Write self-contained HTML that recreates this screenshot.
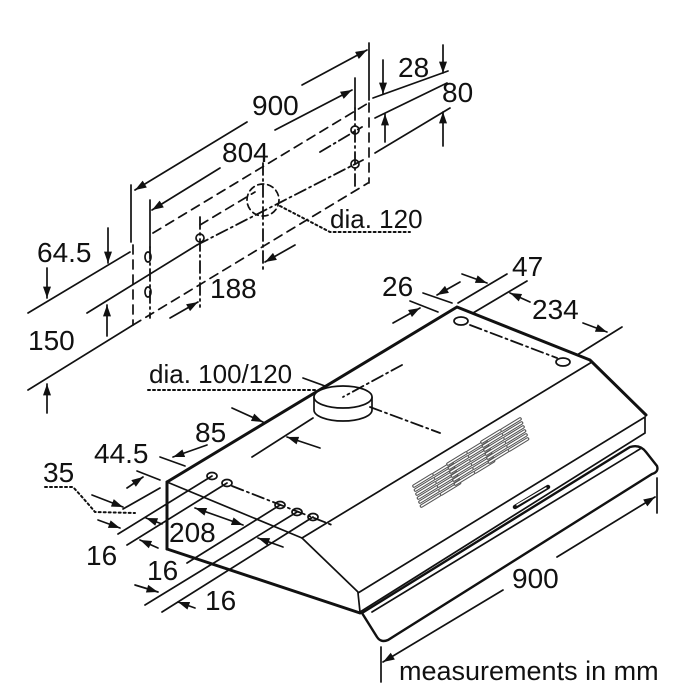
<!DOCTYPE html>
<html><head><meta charset="utf-8"><style>
html,body{margin:0;padding:0;background:#fff}
svg{display:block}
text{font-family:"Liberation Sans",Arial,sans-serif;fill:#111}
</style></head><body>
<svg width="700" height="700" viewBox="0 0 700 700" xmlns="http://www.w3.org/2000/svg">
<defs>
<marker id="a" viewBox="0 0 10 7" refX="10" refY="3.5" markerWidth="13" markerHeight="8" markerUnits="userSpaceOnUse" orient="auto-start-reverse"><path d="M0,0 L10,3.5 L0,7 z" fill="#111"/></marker>
<path id="sl" d="M0,0 l18,-11 M1.5,4 l18,-11 M3,8 l18,-11 M4.5,12 l18,-11 M6,16 l18,-11 M7.5,20 l18,-11 M20,-12 l18,-11 M21.5,-8 l18,-11 M23,-4 l18,-11 M24.5,0 l18,-11 M26,4 l18,-11 M27.5,8 l18,-11"/>
<g id="vg" stroke-linecap="round" fill="none">
<use href="#sl" stroke="#555" stroke-width="3.6"/>
<use href="#sl" stroke="#fff" stroke-width="1.4"/>
</g>
</defs>
<g stroke="#111" stroke-width="1.7" fill="none" stroke-linecap="round">
<line x1="247" y1="122" x2="135" y2="190" marker-end="url(#a)"/>
<line x1="302" y1="85" x2="367" y2="50" marker-end="url(#a)"/>
<line x1="220" y1="168" x2="152" y2="210" marker-end="url(#a)"/>
<line x1="275" y1="130" x2="352" y2="90" marker-end="url(#a)"/>
<line x1="131" y1="185" x2="131" y2="242"/>
<line x1="150" y1="200" x2="150" y2="247"/>
<line x1="369" y1="43" x2="369" y2="100"/>
<line x1="355" y1="78" x2="355" y2="108"/>
<g stroke-dasharray="9,6">
<line x1="153" y1="233" x2="370" y2="102"/>
<line x1="200" y1="225" x2="255" y2="192"/>
<line x1="133" y1="325" x2="368" y2="183"/>
<line x1="133" y1="245" x2="133" y2="325"/>
<line x1="369" y1="103" x2="369" y2="183"/>
</g>
<g stroke-dasharray="12,4,2,4" stroke-width="1.8">
<line x1="197" y1="245" x2="363" y2="160"/>
<line x1="320" y1="152" x2="362" y2="127"/>
<line x1="150" y1="247" x2="150" y2="318"/>
<line x1="200" y1="217" x2="200" y2="307"/>
<line x1="263" y1="163" x2="263" y2="273"/>
<line x1="355" y1="108" x2="355" y2="187"/>
</g>
<circle cx="263" cy="200" r="16" stroke-dasharray="6,4"/>
<ellipse cx="148" cy="257" rx="3" ry="5"/>
<ellipse cx="148" cy="292" rx="3" ry="5"/>
<circle cx="200" cy="238" r="4"/>
<circle cx="355" cy="130" r="4"/>
<circle cx="355" cy="164" r="4"/>
<line x1="28" y1="313" x2="130" y2="252"/>
<line x1="87" y1="313" x2="197" y2="245"/>
<line x1="28" y1="390" x2="133" y2="325"/>
<line x1="108" y1="228" x2="108" y2="263" marker-end="url(#a)"/>
<line x1="47" y1="268" x2="47" y2="298" marker-end="url(#a)"/>
<line x1="107" y1="336" x2="107" y2="305" marker-end="url(#a)"/>
<line x1="47" y1="413" x2="47" y2="384" marker-end="url(#a)"/>
<line x1="373" y1="98" x2="448" y2="71"/>
<line x1="375" y1="118" x2="447" y2="83"/>
<line x1="375" y1="153" x2="450" y2="108"/>
<line x1="383" y1="60" x2="383" y2="94" marker-end="url(#a)"/>
<line x1="443" y1="45" x2="443" y2="73" marker-end="url(#a)"/>
<line x1="385" y1="142" x2="385" y2="114" marker-end="url(#a)"/>
<line x1="443" y1="146" x2="443" y2="112" marker-end="url(#a)"/>
<line x1="170" y1="318" x2="198" y2="302" marker-end="url(#a)"/>
<line x1="295" y1="245" x2="265" y2="262" marker-end="url(#a)"/>
<path d="M280,206 L330,232 L410,232" stroke-dasharray="2,3" stroke-width="2"/>

<path d="M362,613 L630,447 Q640,444 646,452 L657,466 Q659,472 652,474 L388,640 Q381,643 377,637 Z" fill="#fff" stroke-width="2.4"/>
<line x1="372" y1="612" x2="640" y2="449"/>
<path d="M358,593 L645,417 L645,433 L360,612 Z" fill="#fff"/>
<line x1="167" y1="482" x2="302" y2="538"/>
<line x1="302" y1="538" x2="358" y2="592"/>
<line x1="302" y1="538" x2="592" y2="362"/>
<g stroke-width="3">
<polyline points="167,482 457,307 590,360 646,415"/>
<line x1="167" y1="482" x2="167" y2="549"/>
<line x1="167" y1="549" x2="360" y2="613"/>
</g>
<ellipse cx="461" cy="321" rx="7" ry="4"/>
<ellipse cx="563" cy="362" rx="7" ry="4"/>
<line x1="470" y1="325" x2="557" y2="358" stroke-dasharray="12,4,2,4" stroke-width="1.8"/>
<path d="M314,397 L314,410 A29,11 0 0 0 372,410 L372,397" fill="#fff"/>
<ellipse cx="343" cy="397" rx="29" ry="11" fill="#fff"/>
<g stroke-dasharray="12,4,2,4" stroke-width="1.8">
<line x1="402" y1="365" x2="343" y2="397"/>
<line x1="370" y1="407" x2="440" y2="433"/>
</g>
<ellipse cx="212" cy="476" rx="5" ry="3.5"/>
<ellipse cx="227" cy="483" rx="5" ry="3.5"/>
<ellipse cx="280" cy="505" rx="5" ry="3.5"/>
<ellipse cx="297" cy="512" rx="5" ry="3.5"/>
<ellipse cx="313" cy="517" rx="5" ry="3.5"/>
<line x1="232" y1="486" x2="332" y2="525" stroke-dasharray="12,4,2,4" stroke-width="1.8"/>
<line x1="212" y1="476" x2="118" y2="534"/>
<line x1="227" y1="483" x2="127" y2="545"/>
<line x1="280" y1="505" x2="187" y2="563"/>
<line x1="297" y1="512" x2="145" y2="605"/>
<line x1="313" y1="517" x2="162" y2="612"/>
<line x1="123" y1="509" x2="160" y2="488"/>
<line x1="137" y1="471" x2="160" y2="480"/>
<line x1="160" y1="457" x2="185" y2="466"/>
<line x1="252" y1="457" x2="313" y2="418"/>
<line x1="232" y1="408" x2="263" y2="422" marker-end="url(#a)"/>
<line x1="320" y1="448" x2="287" y2="437" marker-end="url(#a)"/>
<line x1="207" y1="445" x2="173" y2="457" marker-end="url(#a)"/>
<line x1="127" y1="488" x2="143" y2="477" marker-end="url(#a)"/>
<line x1="92" y1="495" x2="123" y2="507" marker-end="url(#a)"/>
<line x1="98" y1="520" x2="120" y2="528" marker-end="url(#a)"/>
<line x1="162" y1="524" x2="146" y2="518" marker-end="url(#a)"/>
<line x1="158" y1="548" x2="140" y2="540" marker-end="url(#a)"/>
<line x1="195" y1="508" x2="243" y2="525" marker-start="url(#a)" marker-end="url(#a)"/>
<line x1="283" y1="547" x2="258" y2="538" marker-end="url(#a)"/>
<line x1="135" y1="585" x2="158" y2="592" marker-end="url(#a)"/>
<line x1="195" y1="608" x2="178" y2="602" marker-end="url(#a)"/>
<path d="M45,487 L73,487 Q85,500 95,512 L135,513" stroke-dasharray="2,3" stroke-width="2"/>
<path d="M148,390 L315,390" stroke-dasharray="2,3" stroke-width="2"/>
<line x1="303" y1="378" x2="325" y2="386"/>
<line x1="423" y1="293" x2="452" y2="303"/>
<line x1="410" y1="301" x2="438" y2="312"/>
<line x1="458" y1="303" x2="507" y2="274"/>
<line x1="473" y1="313" x2="527" y2="281"/>
<line x1="577" y1="355" x2="622" y2="327"/>
<line x1="393" y1="323" x2="420" y2="308" marker-end="url(#a)"/>
<line x1="460" y1="282" x2="437" y2="295" marker-end="url(#a)"/>
<line x1="462" y1="274" x2="487" y2="283" marker-end="url(#a)"/>
<line x1="530" y1="302" x2="510" y2="293" marker-end="url(#a)"/>
<line x1="583" y1="323" x2="607" y2="332" marker-end="url(#a)"/>
<line x1="657" y1="478" x2="657" y2="513"/>
<line x1="557" y1="557" x2="655" y2="497" marker-end="url(#a)"/>
<line x1="503" y1="590" x2="383" y2="662" marker-end="url(#a)"/>
<line x1="381" y1="647" x2="381" y2="682"/>
<line x1="515" y1="507" x2="548" y2="487" stroke-width="4.5"/>
<line x1="517" y1="505" x2="546" y2="488" stroke="#fff" stroke-width="1.5"/>
</g>
<use href="#vg" transform="translate(414,486)"/>
<use href="#vg" transform="translate(448,464)"/>
<use href="#vg" transform="translate(482,442)"/>

<g font-size="28">
<text x="252" y="115">900</text>
<text x="222" y="162">804</text>
<text x="398" y="77">28</text>
<text x="442" y="102">80</text>
<text x="37" y="262">64.5</text>
<text x="28" y="350">150</text>
<text x="210" y="298">188</text>
<text x="382" y="296">26</text>
<text x="512" y="276">47</text>
<text x="532" y="319">234</text>
<text x="195" y="442">85</text>
<text x="94" y="463">44.5</text>
<text x="43" y="482">35</text>
<text x="169" y="542">208</text>
<text x="86" y="565">16</text>
<text x="147" y="580">16</text>
<text x="205" y="610">16</text>
<text x="512" y="588">900</text>
</g>
<text x="330" y="228" font-size="26">dia. 120</text>
<text x="149" y="383" font-size="26">dia. 100/120</text>
<text x="399" y="680" font-size="27">measurements in mm</text>
</svg>
</body></html>
